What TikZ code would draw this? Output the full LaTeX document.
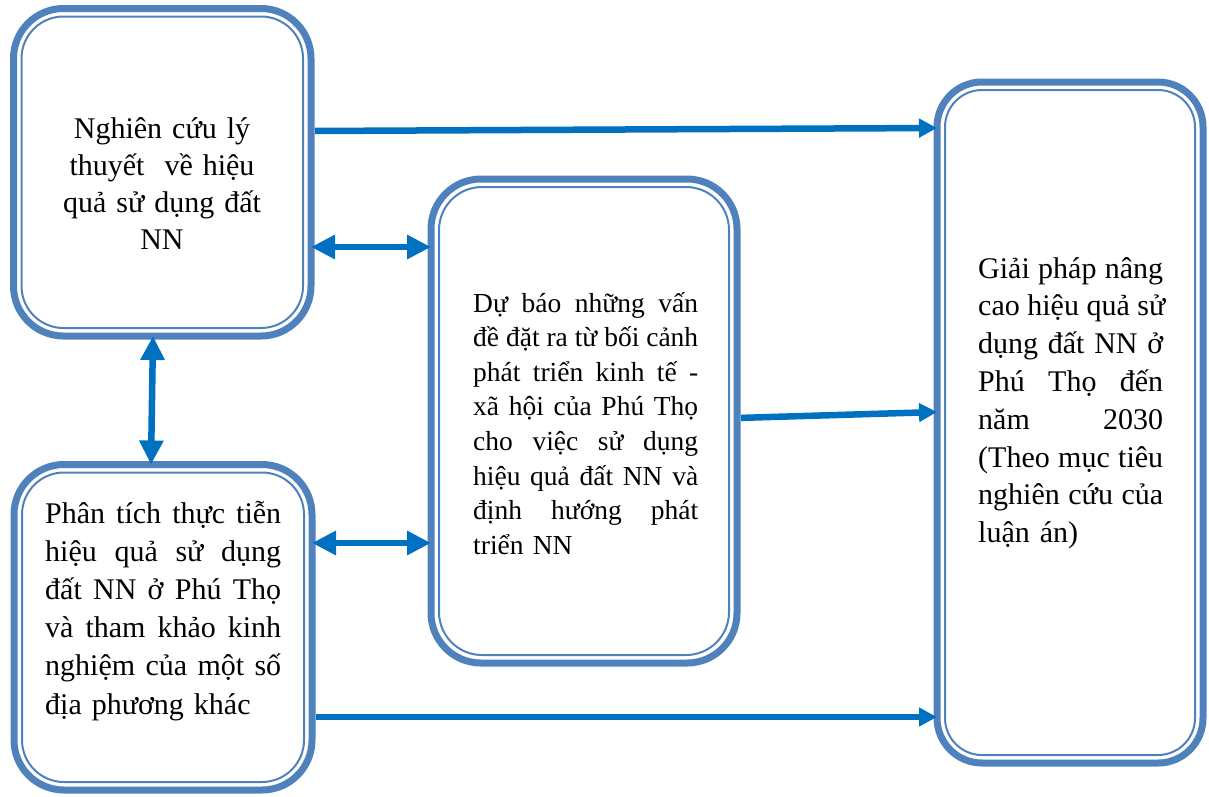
\documentclass[tikz,border=0pt]{standalone}
\usepackage{fontspec}
\setmainfont{Liberation Serif}
\usepackage{tikz}
\usetikzlibrary{arrows.meta}
\definecolor{boxblue}{RGB}{79,129,189}
\definecolor{arrowblue}{RGB}{0,112,192}
\newlength{\jw}
\newcommand{\jl}[1]{\makebox[\jw][s]{\spaceskip=0.25em plus 1fil\relax #1}}

\begin{document}
\begin{tikzpicture}[x=1pt, y=-1pt,
    panel/.style={draw=boxblue, line width=7pt, rounded corners=50pt, inner sep=0pt, outer sep=0pt},
    panelin/.style={draw=boxblue, line width=2pt},
    paneltext/.style={inner sep=0pt, text width=#1, align=left, anchor=base west,
        execute at begin node={\setlength{\jw}{#1}}, font=\fontsize{30}{37.8}\selectfont},
    link/.style={draw=arrowblue, line width=6.5pt, -{Triangle[length=18pt,width=18pt]}},
    duplex/.style={draw=arrowblue, line width=6.5pt, {Triangle[length=24pt,width=23pt]}-{Triangle[length=24pt,width=23pt]}}]
    \useasboundingbox (0,0) rectangle (1209,796);
    % Boxes
    \node[panel, minimum width=297.5pt, minimum height=327.5pt] (theory) at (162.25,172.25) {};
    \node[panel, minimum width=298pt, minimum height=325.5pt] (practice) at (163,627.25) {};
    \node[panel, minimum width=306pt, minimum height=484pt] (forecast) at (584,421) {};
    \node[panel, rounded corners=45pt, minimum width=266pt, minimum height=681pt] (solution) at (1070,422.5) {};
    % Inner borders
    \foreach \b/\r in {theory/42,practice/42,forecast/43,solution/37}
        \draw[panelin, rounded corners=\r pt] ([shift={(8,8)}]\b.north west) rectangle ([shift={(-8,-8)}]\b.south east);
    % Texts
    \node[paneltext=280pt, align=center, anchor=base, font=\fontsize{30}{37.3}\selectfont] (theorytext) at (162,138)
        {Nghiên cứu lý\\thuyết~ về hiệu\\quả sử dụng đất\\NN};
    \node[paneltext=236pt, font=\fontsize{30}{38.2}\selectfont] (practicetext) at (45,523)
        {\jl{Phân tích thực tiễn}\\\jl{hiệu quả sử dụng}\\\jl{đất NN ở Phú Thọ}\\\jl{và tham khảo kinh}\\\jl{nghiệm của một số}\\địa phương khác};
    \node[paneltext=225pt, font=\fontsize{27.5}{34.6}\selectfont] (forecasttext) at (473,312)
        {\jl{Dự báo những vấn}\\\jl{đề đặt ra từ bối cảnh}\\\jl{phát triển kinh tế -}\\\jl{xã hội của Phú Thọ}\\\jl{cho việc sử dụng}\\\jl{hiệu quả đất NN và}\\\jl{định hướng phát}\\triển NN};
    \node[paneltext=185pt] (solutiontext) at (978,278)
        {\jl{Giải pháp nâng}\\\jl{cao hiệu quả sử}\\\jl{dụng đất NN ở}\\\jl{Phú Thọ đến}\\\jl{năm 2030}\\\jl{(Theo mục tiêu}\\\jl{nghiên cứu của}\\luận án)};
    % Arrows
    \draw[link, shorten <=4pt] (theory.east |- 0,131) -- (solution.west |- 0,128);
    \draw[duplex] (theory.east |- 0,247) -- (forecast.west |- 0,247);
    \draw[duplex] (theory.south -| 153,0) -- (practice.north -| 151,0);
    \draw[duplex] (practice.east |- 0,543) -- (forecast.west |- 0,543);
    \draw[link, shorten <=4pt] (forecast.east |- 0,418) -- (solution.west |- 0,412);
    \draw[link, shorten <=4pt] (practice.east |- 0,717) -- (solution.west |- 0,717);
\end{tikzpicture}
\end{document}
